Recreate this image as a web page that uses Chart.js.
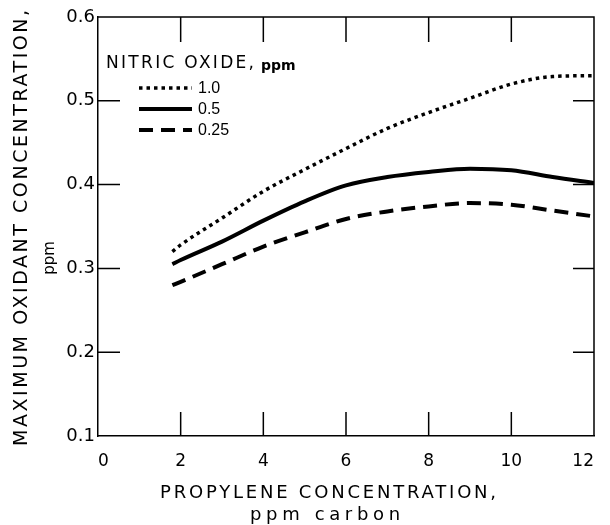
<!DOCTYPE html>
<html>
<head>
<meta charset="utf-8">
<script src="https://cdn.jsdelivr.net/npm/chart.js@4/dist/chart.umd.min.js"></script>
<style>
  html, body { margin: 0; padding: 0; background: #fff; }
  #wrap { width: 610px; height: 525px; }
</style>
</head>
<body>
<div id="wrap"><canvas id="c" width="610" height="525"></canvas></div>
<script>
// ---- data ----
const propyleneX = [1.8, 2, 3, 4, 5, 6, 7, 8, 9, 10, 11, 12];
const oxidantNO_1_0 = [0.320, 0.328, 0.360, 0.392, 0.418, 0.443, 0.467, 0.486, 0.503, 0.520, 0.529, 0.530];
const oxidantNO_0_5 = [0.305, 0.310, 0.332, 0.357, 0.380, 0.399, 0.409, 0.415, 0.419, 0.417, 0.409, 0.402];
const oxidantNO_0_25 = [0.280, 0.284, 0.305, 0.326, 0.343, 0.359, 0.368, 0.374, 0.378, 0.376, 0.369, 0.362];
const seriesLabels = ['1.0', '0.5', '0.25'];
const xTicks = [0, 2, 4, 6, 8, 10, 12];
const yTicks = [0.1, 0.2, 0.3, 0.4, 0.5, 0.6];
const legendTitle = 'NITRIC OXIDE,';
const legendUnit = 'ppm';
const xTitle = 'PROPYLENE CONCENTRATION,';
const xSubTitle = 'ppm carbon';
const yTitle = 'MAXIMUM OXIDANT CONCENTRATION,';
const ySubTitle = 'ppm';

const pts = (xs, ys) => xs.map((x, i) => ({x: x, y: ys[i]}));

const styles = [
  {borderWidth: 3.5, borderDash: [3.5, 4]},
  {borderWidth: 4, borderDash: []},
  {borderWidth: 4, borderDash: [14, 8]}
];
const seriesData = [oxidantNO_1_0, oxidantNO_0_5, oxidantNO_0_25];

const datasets = seriesData.map((d, i) => ({
  label: seriesLabels[i],
  data: pts(propyleneX, d),
  borderColor: '#000',
  backgroundColor: '#000',
  borderWidth: styles[i].borderWidth,
  borderDash: styles[i].borderDash,
  borderCapStyle: 'butt',
  pointRadius: 0,
  fill: false,
  cubicInterpolationMode: 'monotone'
}));

function spacedText(ctx, text, x, y, targetWidth) {
  const w = ctx.measureText(text).width;
  const sp = (targetWidth - w) / (text.length - 1);
  ctx.letterSpacing = sp.toFixed(2) + 'px';
  ctx.fillText(text, x, y);
  ctx.letterSpacing = '0px';
}

const framePlugin = {
  id: 'frame',
  afterDraw(chart) {
    const ctx = chart.ctx;
    const a = chart.chartArea;
    const xs = chart.scales.x, ys = chart.scales.y;
    ctx.save();
    ctx.strokeStyle = '#000';
    ctx.lineWidth = 1.5;
    // top & right borders
    ctx.beginPath();
    ctx.moveTo(a.left, a.top); ctx.lineTo(a.right, a.top); ctx.lineTo(a.right, a.bottom);
    ctx.stroke();
    // inward ticks
    ctx.beginPath();
    xTicks.forEach(v => {
      if (v <= xs.min || v >= xs.max) return;
      const px = xs.getPixelForValue(v);
      ctx.moveTo(px, a.top); ctx.lineTo(px, a.top + 25);
      ctx.moveTo(px, a.bottom); ctx.lineTo(px, a.bottom - 24);
    });
    yTicks.forEach(v => {
      if (v <= ys.min + 1e-9 || v >= ys.max - 1e-9) return;
      const py = ys.getPixelForValue(v);
      ctx.moveTo(a.left, py); ctx.lineTo(a.left + 22, py);
      ctx.moveTo(a.right, py); ctx.lineTo(a.right - 21, py);
    });
    ctx.stroke();

    // legend
    ctx.fillStyle = '#000';
    ctx.textBaseline = 'middle';
    ctx.textAlign = 'left';
    ctx.font = '17px "DejaVu Sans"';
    spacedText(ctx, legendTitle, 106, 64, 148);
    ctx.font = 'bold 14px "DejaVu Sans"';
    ctx.fillText(legendUnit, 261, 66);
    const rows = [88, 109, 130];
    chart.data.datasets.forEach((ds, i) => {
      ctx.beginPath();
      ctx.lineWidth = ds.borderWidth;
      ctx.setLineDash(ds.borderDash);
      ctx.lineCap = 'butt';
      ctx.moveTo(139, rows[i]); ctx.lineTo(192, rows[i]);
      ctx.stroke();
      ctx.setLineDash([]);
      ctx.font = '16px "Liberation Sans"';
      ctx.fillText(ds.label, 198, rows[i] + 1);
    });

    // x axis titles
    ctx.textAlign = 'left';
    ctx.font = '18px "DejaVu Sans"';
    spacedText(ctx, xTitle, 160, 493, 336);
    ctx.font = '18px "DejaVu Sans"';
    spacedText(ctx, xSubTitle, 250, 515, 150);

    // y axis titles (rotated)
    ctx.save();
    ctx.translate(22, 446);
    ctx.rotate(-Math.PI / 2);
    ctx.textAlign = 'left';
    ctx.font = '19px "DejaVu Sans"';
    spacedText(ctx, yTitle, 0, 0, 436);
    ctx.restore();
    ctx.save();
    ctx.translate(50, 258);
    ctx.rotate(-Math.PI / 2);
    ctx.textAlign = 'center';
    ctx.font = '15px "DejaVu Sans"';
    ctx.fillText(ySubTitle, 0, 0);
    ctx.restore();

    ctx.restore();
  }
};

new Chart(document.getElementById('c'), {
  type: 'line',
  data: { datasets: datasets },
  options: {
    responsive: false,
    animation: false,
    layout: { padding: { left: 0, right: 16, top: 17, bottom: 0 } },
    plugins: { legend: { display: false }, tooltip: { enabled: false } },
    scales: {
      x: {
        type: 'linear', min: 0, max: 12,
        afterBuildTicks: s => { s.ticks = xTicks.map(v => ({value: v})); },
        afterFit: s => { s.height = 89; s.paddingLeft = 0; s.paddingRight = 0; },
        grid: { display: false, drawTicks: false },
        border: { display: true, color: '#000', width: 1.5 },
        ticks: { color: '#000', padding: 15, align: 'inner', font: { family: 'DejaVu Sans', size: 17 }, maxRotation: 0,
                 callback: v => String(v) }
      },
      y: {
        type: 'linear', min: 0.1, max: 0.6,
        afterBuildTicks: s => { s.ticks = yTicks.map(v => ({value: v})); },
        afterFit: s => { s.width = 98; s.paddingTop = 0; s.paddingBottom = 0; },
        grid: { display: false, drawTicks: false },
        border: { display: true, color: '#000', width: 1.5 },
        ticks: { color: '#000', padding: 3, font: { family: 'DejaVu Sans', size: 18 },
                 callback: v => v.toFixed(1) }
      }
    }
  },
  plugins: [framePlugin]
});
</script>
</body>
</html>
